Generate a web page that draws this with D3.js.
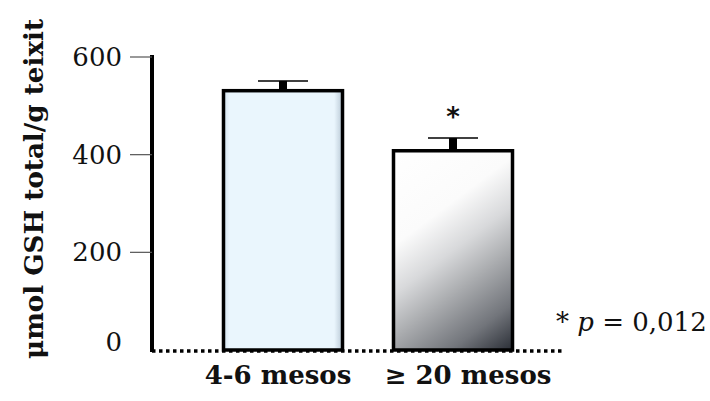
<!DOCTYPE html>
<html>
<head>
<meta charset="utf-8">
<script src="https://cdn.jsdelivr.net/npm/d3@7"></script>
<style>
  body { margin: 0; background: #fff; }
  svg { display: block; }
  text { font-family: "DejaVu Serif", "Liberation Serif", serif; fill: #111; }
  .tick-label { font-size: 26px; }
  .cat-label { font-size: 26px; font-weight: bold; }
  .axis-title { font-size: 26px; font-weight: bold; }
</style>
</head>
<body>
<div id="chart"></div>
<script>
// Data
const categories = ['4-6 mesos', '≥ 20 mesos'];
const means = [531, 408];
const sems = [20, 26];
const signif = ['', '*'];
const yTicks = [0, 200, 400, 600];

const W = 710, H = 401;

const svg = d3.select('#chart').append('svg')
    .attr('width', W).attr('height', H);

const defs = svg.append('defs');

const x = d3.scaleBand().domain(categories).range([198, 538])
    .paddingInner(0.3).paddingOuter(0.15);
const y = d3.scaleLinear().domain([0, 600]).range([350, 57]);

const axisX = 152;
const baseY = y(0);

// light blue fill with soft bevel edges
const g1 = defs.append('linearGradient').attr('id', 'fill0')
    .attr('x1', '0').attr('y1', '0').attr('x2', '1').attr('y2', '0');
g1.append('stop').attr('offset', '0%').attr('stop-color', '#d2e2ee');
g1.append('stop').attr('offset', '5%').attr('stop-color', '#eaf6fd');
g1.append('stop').attr('offset', '93%').attr('stop-color', '#eaf6fd');
g1.append('stop').attr('offset', '100%').attr('stop-color', '#b9c9d6');

// white-to-dark diagonal fill, ends at the bottom-right corner of bar 2
const b2 = categories[1];
const ex = x(b2) + x.bandwidth(), ey = baseY;
const L = 231;
const g2 = defs.append('linearGradient').attr('id', 'fill1')
    .attr('gradientUnits', 'userSpaceOnUse')
    .attr('x1', ex - 0.6 * L).attr('y1', ey - 0.8 * L)
    .attr('x2', ex).attr('y2', ey);
[[0, '#ffffff'], [0.33, '#fbfbfb'], [0.5, '#d8d9db'], [0.66, '#a8aaad'],
 [0.84, '#72757b'], [1, '#2a2e36']].forEach(s => {
    g2.append('stop').attr('offset', s[0]).attr('stop-color', s[1]);
});

// bars
categories.forEach((c, i) => {
    svg.append('rect')
        .attr('x', x(c)).attr('y', y(means[i]))
        .attr('width', x.bandwidth()).attr('height', baseY - y(means[i]))
        .attr('fill', `url(#fill${i})`)
        .attr('stroke', '#000').attr('stroke-width', 3.5);

    const cx = x(c) + x.bandwidth() / 2;
    // error stem
    svg.append('rect')
        .attr('x', cx - 4).attr('y', y(means[i] + sems[i]))
        .attr('width', 8).attr('height', y(means[i]) - y(means[i] + sems[i]))
        .attr('fill', '#000');
    // cap
    svg.append('line')
        .attr('x1', cx - 25).attr('x2', cx + 25)
        .attr('y1', y(means[i] + sems[i])).attr('y2', y(means[i] + sems[i]))
        .attr('stroke', '#000').attr('stroke-width', 1.5);

    if (signif[i]) {
        svg.append('text')
            .attr('x', cx).attr('y', y(means[i] + sems[i]) - 12)
            .attr('text-anchor', 'middle')
            .style('font-family', '"DejaVu Sans", sans-serif')
            .style('font-size', '26px')
            .style('font-weight', 'bold')
            .text(signif[i]);
    }
});

// dotted baseline
svg.append('line')
    .attr('x1', axisX).attr('x2', 564)
    .attr('y1', baseY + 1).attr('y2', baseY + 1)
    .attr('stroke', '#000').attr('stroke-width', 3.5)
    .attr('stroke-dasharray', '3.5,3.5');

// y axis line
svg.append('line')
    .attr('x1', axisX).attr('x2', axisX)
    .attr('y1', y(600) - 2).attr('y2', baseY + 2)
    .attr('stroke', '#000').attr('stroke-width', 4);

// ticks
yTicks.forEach(t => {
    if (t > 0) {
        svg.append('line')
            .attr('x1', 130).attr('x2', axisX)
            .attr('y1', y(t)).attr('y2', y(t))
            .attr('stroke', '#555').attr('stroke-width', 1.2);
    }
    svg.append('text').attr('class', 'tick-label')
        .attr('x', 122).attr('y', y(t) + (t === 0 ? -8 : 0))
        .attr('dy', '0.35em')
        .attr('text-anchor', 'end')
        .text(t);
});

// category labels
const labelShift = [-5, 15];
categories.forEach((c, i) => {
    svg.append('text').attr('class', 'cat-label')
        .attr('x', x(c) + x.bandwidth() / 2 + labelShift[i])
        .attr('y', 384)
        .attr('text-anchor', 'middle')
        .text(c);
});

// y title
svg.append('text').attr('class', 'axis-title')
    .attr('transform', 'translate(43,189) rotate(-90)')
    .attr('text-anchor', 'middle')
    .attr('textLength', 340)
    .attr('lengthAdjust', 'spacingAndGlyphs')
    .text('μmol GSH total/g teixit');

// p value note
const note = svg.append('text')
    .attr('x', 556).attr('y', 331)
    .style('font-size', '26px');
note.append('tspan').text('* ');
note.append('tspan').style('font-style', 'italic').text('p');
note.append('tspan').text(' = 0,012');
</script>
</body>
</html>
